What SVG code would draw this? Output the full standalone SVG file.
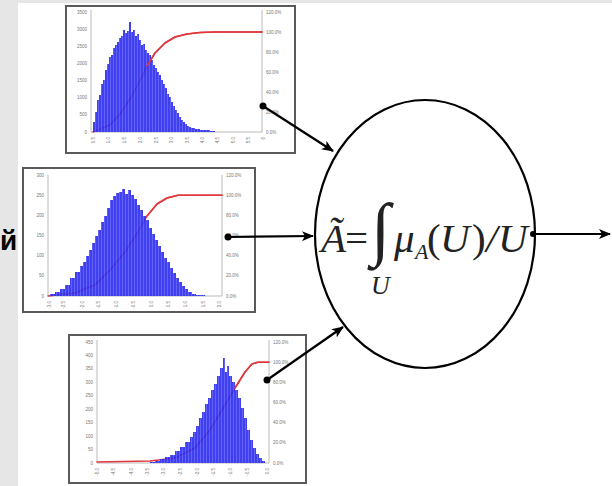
<svg xmlns="http://www.w3.org/2000/svg" width="612" height="486" viewBox="0 0 612 486">
<style>
.frame{fill:#fff;stroke:#5a5a5a;stroke-width:2}
.axis{stroke:#a8a8a8;stroke-width:0.8;fill:none}
.tick{font-family:"Liberation Sans",Arial,sans-serif;font-size:4.5px;fill:#777}
.tl{text-anchor:end}
.bars{fill:url(#barpat);opacity:0.9}
.cum{fill:none;stroke:#e0383c;stroke-width:1.5;stroke-linejoin:round;stroke-linecap:round}
.conn{stroke:#000;stroke-width:2.2;fill:none}
.dot{fill:#000}
.math{font-family:"Liberation Serif","Times New Roman",serif;fill:#222}
</style>
<defs>
<pattern id="barpat" patternUnits="userSpaceOnUse" width="3" height="10">
<rect width="3" height="10" fill="#2b2bee"/>
<line x1="2.6" y1="0" x2="2.6" y2="10" stroke="#7070ff" stroke-width="0.6"/>
</pattern>
<marker id="ah" viewBox="0 0 12 10" refX="11" refY="5" markerWidth="12" markerHeight="10" markerUnits="userSpaceOnUse" orient="auto">
<path d="M0,0 L12,5 L0,10 L3,5 Z" fill="#000"/>
</marker>
</defs>
<rect x="0" y="0" width="612" height="486" fill="#e6e6e6"/>
<rect x="18" y="3" width="594" height="483" fill="#fff"/>

<g id="label-left">
<text x="0" y="250" font-family="Liberation Sans,Arial,sans-serif" font-weight="bold" font-size="28" fill="#000">й</text>
</g>

<g id="chart1">
<rect class="frame" x="66" y="6" width="229" height="147"/>
<line class="axis" x1="91" y1="10" x2="91" y2="132"/>
<line class="axis" x1="262" y1="10" x2="262" y2="132"/>
<line class="axis" x1="91" y1="132" x2="262" y2="132"/>
<g class="tick tl">
<text x="87" y="133.5">0</text><text x="87" y="116.4">500</text><text x="87" y="99.2">1000</text><text x="87" y="82.1">1500</text><text x="87" y="64.9">2000</text><text x="87" y="47.8">2500</text><text x="87" y="30.6">3000</text><text x="87" y="13.5">3500</text>
</g>
<g class="tick">
<text x="266" y="133.5">0.0%</text><text x="266" y="113.5">20.0%</text><text x="266" y="93.5">40.0%</text><text x="266" y="73.5">60.0%</text><text x="266" y="53.5">80.0%</text><text x="266" y="33.5">100.0%</text><text x="266" y="13.5">120.0%</text>
</g>
<g class="tick tl">
<text transform="translate(94.5,137) rotate(-90)">0.5</text><text transform="translate(109.5,137) rotate(-90)">1.0</text><text transform="translate(125.5,137) rotate(-90)">1.5</text><text transform="translate(141.5,137) rotate(-90)">2.0</text><text transform="translate(157.5,137) rotate(-90)">2.5</text><text transform="translate(172.5,137) rotate(-90)">3.0</text><text transform="translate(188.5,137) rotate(-90)">3.5</text><text transform="translate(203.5,137) rotate(-90)">4.0</text><text transform="translate(218.5,137) rotate(-90)">4.5</text><text transform="translate(234.5,137) rotate(-90)">5.0</text><text transform="translate(249.5,137) rotate(-90)">5.5</text><text transform="translate(264.5,137) rotate(-90)">6</text>
</g>
<path class="cum" d="M93,132 L110,125 L120,114 L130,99 L140,81 L147,66 L155,53 L165,43 L175,37 L187,34 L200,32.5 L215,32 L262,32"/>
<path class="bars" d="M93,132 V122 H95 V112 H97 V100 H99 V95 H101 V84 H103 V80 H105 V70 H107 V64 H109 V57 H111 V55 H113 V48 H115 V45 H117 V42 H119 V38 H121 V36 H123 V30 H125 V33 H127 V31 H129 V22 H131 V32 H133 V30 H135 V36 H137 V34 H139 V40 H141 V45 H143 V44 H145 V50 H147 V53 H149 V55 H151 V60 H153 V65 H155 V68 H157 V72 H159 V75 H161 V80 H163 V84 H165 V88 H167 V94 H169 V97 H171 V102 H173 V106 H175 V110 H177 V113 H179 V117 H181 V120 H183 V122 H185 V124 H187 V126 H189 V127 H191 V128 H195 V129 H200 V130 H210 V131 H215 V132 Z"/>
<path class="cum" d="M147,66 L155,53 L165,43 L175,37 L187,34 L200,32.5 L215,32 L262,32"/>
</g>

<g id="chart2">
<rect class="frame" x="23" y="168" width="232" height="144"/>
<line class="axis" x1="48" y1="175" x2="48" y2="296"/>
<line class="axis" x1="222" y1="175" x2="222" y2="296"/>
<line class="axis" x1="48" y1="296" x2="222" y2="296"/>
<g class="tick tl">
<text x="44" y="297.5">0</text><text x="44" y="277.3">50</text><text x="44" y="257.2">100</text><text x="44" y="237">150</text><text x="44" y="216.8">200</text><text x="44" y="196.7">250</text><text x="44" y="176.5">300</text>
</g>
<g class="tick">
<text x="226" y="297.5">0.0%</text><text x="226" y="277.3">20.0%</text><text x="226" y="257.2">40.0%</text><text x="226" y="237">60.0%</text><text x="226" y="216.8">80.0%</text><text x="226" y="196.7">100.0%</text><text x="226" y="176.5">120.0%</text>
</g>
<g class="tick tl">
<text transform="translate(50.5,301) rotate(-90)">-3.0</text><text transform="translate(64.5,301) rotate(-90)">-2.5</text><text transform="translate(83.5,301) rotate(-90)">-2.0</text><text transform="translate(99.5,301) rotate(-90)">-1.5</text><text transform="translate(117.5,301) rotate(-90)">-1.0</text><text transform="translate(134.5,301) rotate(-90)">-0.5</text><text transform="translate(152.5,301) rotate(-90)">0.0</text><text transform="translate(169.5,301) rotate(-90)">0.5</text><text transform="translate(186.5,301) rotate(-90)">1.0</text><text transform="translate(204.5,301) rotate(-90)">1.5</text><text transform="translate(220.5,301) rotate(-90)">2.0</text>
</g>
<path class="cum" d="M48,296 L75,293 L95,285 L110,270 L125,252 L138,232 L147,216 L157,204 L167,198 L178,195.2 L222,195.2"/>
<path class="bars" d="M50,296 V294 H55 V292 H60 V289 H65 V285 H70 V278 H75 V272 H80 V266 H83 V262 H86 V256 H89 V250 H92 V243 H95 V236 H98 V230 H101 V222 H104 V216 H107 V208 H110 V200 H113 V196 H116 V193 H119 V192 H122 V189 H125 V194 H128 V190 H131 V195 H134 V199 H137 V205 H140 V210 H143 V216 H146 V220 H149 V228 H152 V234 H155 V240 H158 V246 H161 V252 H164 V258 H167 V262 H170 V268 H173 V273 H176 V278 H179 V282 H182 V286 H185 V289 H188 V292 H192 V294 H196 V295 H205 V296 Z"/>
<path class="cum" d="M147,216 L157,204 L167,198 L178,195.2 L222,195.2"/>
</g>

<g id="chart3">
<rect class="frame" x="69" y="335" width="237" height="148"/>
<line class="axis" x1="97" y1="340" x2="97" y2="463"/>
<line class="axis" x1="269" y1="340" x2="269" y2="463"/>
<line class="axis" x1="97" y1="463" x2="269" y2="463"/>
<g class="tick tl">
<text x="93" y="464.5">0</text><text x="93" y="451.1">50</text><text x="93" y="437.6">100</text><text x="93" y="424.2">150</text><text x="93" y="410.7">200</text><text x="93" y="397.3">250</text><text x="93" y="383.8">300</text><text x="93" y="370.4">350</text><text x="93" y="356.9">400</text><text x="93" y="343.5">450</text>
</g>
<g class="tick">
<text x="273" y="464.5">0.0%</text><text x="273" y="444.3">20.0%</text><text x="273" y="424.2">40.0%</text><text x="273" y="404">60.0%</text><text x="273" y="383.8">80.0%</text><text x="273" y="363.7">100.0%</text><text x="273" y="343.5">120.0%</text>
</g>
<g class="tick tl">
<text transform="translate(98.5,468) rotate(-90)">-5.0</text><text transform="translate(114.5,468) rotate(-90)">-4.5</text><text transform="translate(132.5,468) rotate(-90)">-4.0</text><text transform="translate(148.5,468) rotate(-90)">-3.5</text><text transform="translate(164.5,468) rotate(-90)">-3.0</text><text transform="translate(181.5,468) rotate(-90)">-2.5</text><text transform="translate(198.5,468) rotate(-90)">-2.0</text><text transform="translate(214.5,468) rotate(-90)">-1.5</text><text transform="translate(231.5,468) rotate(-90)">-1.0</text><text transform="translate(248.5,468) rotate(-90)">-0.5</text><text transform="translate(268.5,468) rotate(-90)">0.0</text>
</g>
<path class="cum" d="M97,462 L150,461 L175,458 L195,448 L210,430 L225,405 L235,388 L245,372 L252,364 L258,362.2 L269,362.2"/>
<path class="bars" d="M150,463 V462 H155 V461 H160 V459 H165 V457 H170 V455 H175 V451 H180 V447 H185 V442 H190 V437 H193 V432 H196 V426 H199 V418 H202 V412 H205 V404 H208 V398 H211 V390 H214 V384 H217 V376 H220 V368 H223 V358 H225 V372 H227 V366 H229 V376 H232 V382 H235 V390 H238 V398 H241 V408 H244 V418 H247 V430 H250 V440 H253 V448 H256 V454 H259 V458 H262 V461 H265 V463 Z"/>
<path class="cum" d="M235,388 L245,372 L252,364 L258,362.2 L269,362.2"/>
</g>

<g id="fuzzy-set">
<ellipse cx="425" cy="234" rx="110" ry="134" fill="#fff" stroke="#000" stroke-width="2.2"/>
<text class="math" y="252" font-size="41"><tspan x="321" font-style="italic">Ã</tspan><tspan x="345">=</tspan><tspan x="371" font-size="70">∫</tspan><tspan x="394" font-style="italic">μ</tspan><tspan x="415" y="259" font-style="italic" font-size="22">A</tspan><tspan x="427" y="252">(</tspan><tspan x="440" font-style="italic">U</tspan><tspan x="472">)</tspan><tspan x="486" font-style="italic">/</tspan><tspan x="498" font-style="italic">U</tspan></text>
<text class="math" x="371" y="294" font-size="26" font-style="italic">U</text>
</g>

<g id="connectors">
<line class="conn" x1="263" y1="106" x2="333" y2="151" marker-end="url(#ah)"/>
<line class="conn" x1="228" y1="237" x2="313" y2="236" marker-end="url(#ah)"/>
<line class="conn" x1="267" y1="380" x2="343" y2="327" marker-end="url(#ah)"/>
<line class="conn" x1="533" y1="234" x2="610" y2="234" marker-end="url(#ah)"/>
<circle class="dot" cx="263" cy="106" r="3.5"/>
<circle class="dot" cx="228" cy="237" r="3.5"/>
<circle class="dot" cx="267" cy="380" r="3.5"/>
<circle class="dot" cx="533" cy="234" r="3"/>
</g>
</svg>
